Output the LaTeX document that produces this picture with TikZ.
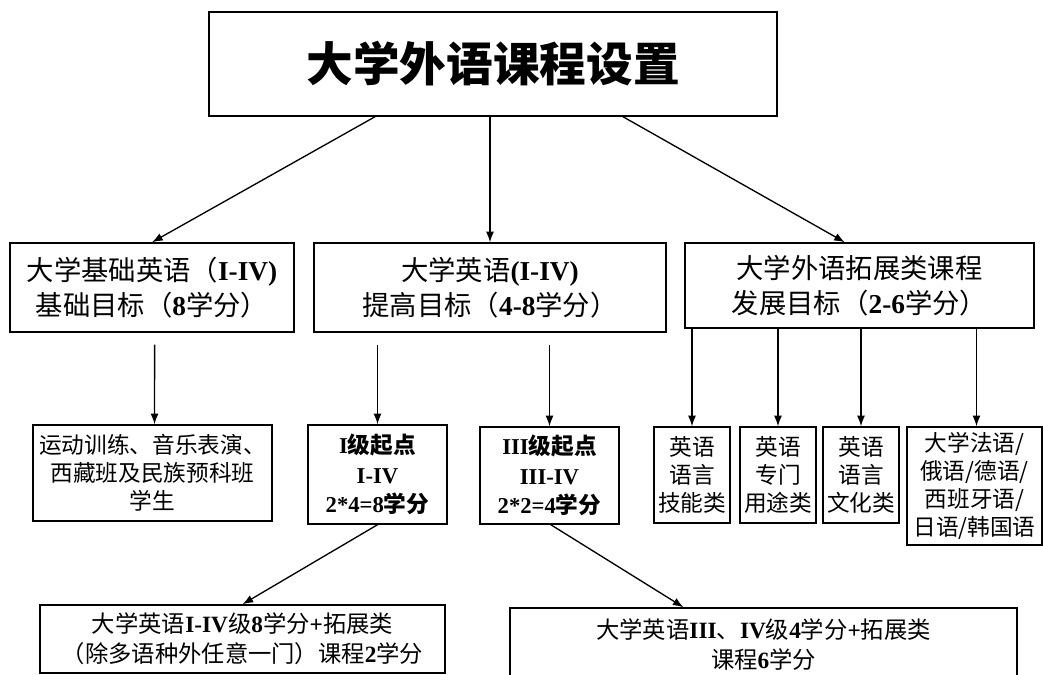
\documentclass[tikz,border=0pt]{standalone}
\usepackage{fontspec}
\setmainfont{Liberation Serif}
\newfontfamily\cjk{Noto Sans CJK SC}
\newcommand\zh[1]{{\cjk #1}}
\newcommand\la[1]{\textbf{#1}}
\usetikzlibrary{arrows.meta}
\tikzset{
  caja/.style={draw, line width=1.1pt, align=center, inner sep=2pt},
  flecha/.style={-{Latex[length=8pt,width=6pt]}, line width=1pt},
  nivel/.style={font=\fontsize{20.5}{26}\selectfont},
  hoja/.style={font=\fontsize{17}{21}\selectfont},
  hojanegrita/.style={font=\fontsize{17}{22}\selectfont\bfseries},
  pie/.style={font=\fontsize{17.5}{22.5}\selectfont},
}
\begin{document}
\begin{tikzpicture}[x=0.75pt, y=-0.75pt]
    \useasboundingbox (0,0) rectangle (1043,675);

    % Caja principal
    \node[caja, minimum width=426pt, minimum height=78pt, font=\fontsize{35}{40}\selectfont\bfseries] (titulo) at (493,64) {\zh{大学外语课程设置}};

    % Segundo nivel
    \node[caja, nivel, minimum width=213pt, minimum height=66.75pt] (basico) at (152,287.5)
        {\zh{大学基础英语（}\la{I-IV)}\\\zh{基础目标（}\la{8}\zh{学分）}};
    \node[caja, nivel, minimum width=264pt, minimum height=66.75pt] (ingles) at (490,287.5)
        {\zh{大学英语}\la{(I-IV)}\\\zh{提高目标（}\la{4-8}\zh{学分）}};
    \node[caja, nivel, minimum width=261.75pt, minimum height=63.75pt] (extension) at (859.5,285.5)
        {\zh{大学外语拓展类课程}\\\zh{发展目标（}\la{2-6}\zh{学分）}};

    % Tercer nivel
    \node[caja, hoja, minimum width=179.25pt, minimum height=72pt] (alumnos) at (152.5,473)
        {\zh{运动训练、音乐表演、}\\\zh{西藏班及民族预科班}\\\zh{学生}};
    \node[caja, hojanegrita, minimum width=104.25pt, minimum height=74.25pt] (nivelI) at (377.5,474.5)
        {\la{I}\zh{级起点}\\\la{I-IV}\\\la{2*4=8}\zh{学分}};
    \node[caja, hojanegrita, minimum width=104.25pt, minimum height=72.75pt] (nivelIII) at (549.5,475.5)
        {\la{III}\zh{级起点}\\\la{III-IV}\\\la{2*2=4}\zh{学分}};
    \node[caja, hoja, minimum width=57pt, minimum height=72pt] (tecnica) at (692,475)
        {\zh{英语}\\\zh{语言}\\\zh{技能类}};
    \node[caja, hoja, minimum width=57pt, minimum height=72pt] (especial) at (778,475)
        {\zh{英语}\\\zh{专门}\\\zh{用途类}};
    \node[caja, hoja, minimum width=57pt, minimum height=72pt] (cultura) at (861,475)
        {\zh{英语}\\\zh{语言}\\\zh{文化类}};
    \node[caja, hoja, minimum width=101.25pt, minimum height=88.5pt] (idiomas) at (974.5,486)
        {\zh{大学法语/}\\\zh{俄语/德语/}\\\zh{西班牙语/}\\\zh{日语/韩国语}};

    % Cuarto nivel
    \node[caja, pie, minimum width=303.75pt, minimum height=51pt] (planI) at (242.5,639)
        {\zh{大学英语}\la{I-IV}\zh{级}\la{8}\zh{学分}\la{+}\zh{拓展类}\\\zh{（除多语种外任意一门）课程}\la{2}\zh{学分}};
    \node[caja, pie, minimum width=380.25pt, minimum height=55.5pt] (planIII) at (763.5,645)
        {\zh{大学英语}\la{III}\zh{、}\la{IV}\zh{级}\la{4}\zh{学分}\la{+}\zh{拓展类}\\\zh{课程}\la{6}\zh{学分}};

    % Flechas
    \draw[flecha] ([xshift=-88.5pt]titulo.south) -- (basico.north);
    \draw[flecha] (ingles.north |- titulo.south) -- (ingles.north);
    \draw[flecha] ([xshift=97.5pt]titulo.south) -- ([xshift=-11pt]extension.north);
    \draw[flecha, shorten <=9pt] ([xshift=2pt]basico.south) -- ([xshift=1.5pt]alumnos.north);
    \draw[flecha, shorten <=9pt] (nivelI.north |- ingles.south) -- (nivelI.north);
    \draw[flecha, shorten <=9pt] (nivelIII.north |- ingles.south) -- (nivelIII.north);
    \draw[flecha] (tecnica.north |- extension.south) -- (tecnica.north);
    \draw[flecha] (especial.north |- extension.south) -- (especial.north);
    \draw[flecha] (cultura.north |- extension.south) -- (cultura.north);
    \draw[flecha] ([xshift=1.5pt]idiomas.north |- extension.south) -- ([xshift=1.5pt]idiomas.north);
    \draw[flecha] (nivelI.south) -- (planI.north);
    \draw[flecha] ([xshift=1pt]nivelIII.south) -- ([xshift=-60pt]planIII.north);
\end{tikzpicture}
\end{document}
